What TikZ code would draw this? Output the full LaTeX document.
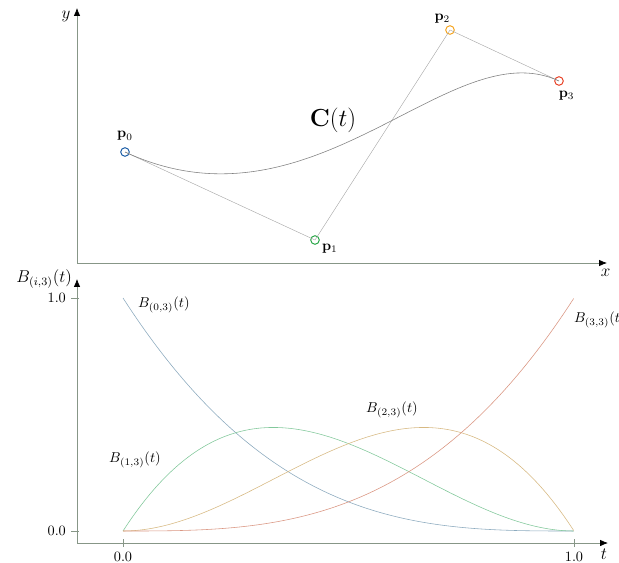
\documentclass[tikz,border=0pt]{standalone}
\usepackage{amsmath, amssymb}
\usetikzlibrary{arrows.meta, positioning}

\definecolor{axisgray}{RGB}{135,150,135}
\definecolor{ptblue}{RGB}{31,96,168}
\definecolor{ptgreen}{RGB}{44,168,74}
\definecolor{ptorange}{RGB}{245,166,35}
\definecolor{ptred}{RGB}{232,69,42}
\definecolor{bblue}{RGB}{140,170,190}
\definecolor{bgreen}{RGB}{130,200,155}
\definecolor{btan}{RGB}{215,185,130}
\definecolor{bsalmon}{RGB}{218,150,130}

\begin{document}
\begin{tikzpicture}[x=0.7pt, y=-0.7pt,
    axis/.style={draw=axisgray, line width=0.5pt, -{Latex[black,length=5.5pt,width=4.5pt]}},
    tick/.style={draw=axisgray, line width=0.5pt},
    ctrlpt/.style={circle, draw, line width=0.7pt, minimum size=6pt, inner sep=0pt},
    poly/.style={gray!70, line width=0.3pt},
    basis/.style={domain=0:1, smooth, samples=60, variable=\t, line width=0.4pt}]
    \useasboundingbox (0,0) rectangle (619,562);

    % top: the curve C(t)
    \coordinate (o1) at (77,263);
    \coordinate (x1) at (607,263);
    \coordinate (y1) at (77,8);
    \draw[axis] (o1) -- (x1);
    \draw[axis] (o1) -- (y1);
    \node[below left=1pt and -6pt of x1, font=\large] (xl) {$x$};
    \node[left=1pt of y1, yshift=-6pt, font=\large] (yl) {$y$};

    \node[ctrlpt, draw=ptblue] (p0) at (125,152) {};
    \node[ctrlpt, draw=ptgreen] (p1) at (315,240) {};
    \node[ctrlpt, draw=ptorange] (p2) at (450,30) {};
    \node[ctrlpt, draw=ptred] (p3) at (559,81) {};
    \node[above=1pt of p0] (l0) {$\mathbf{p}_0$};
    \node[below right=-3pt and -1pt of p1] (l1) {$\mathbf{p}_1$};
    \node[above left=-1pt and -6pt of p2] (l2) {$\mathbf{p}_2$};
    \node[below right=1pt and -6pt of p3] (l3) {$\mathbf{p}_3$};

    \draw[poly] (p0.center) -- (p1.center) -- (p2.center) -- (p3.center);
    \draw[gray, line width=0.4pt] (p0.center) .. controls (p1.center) and (p2.center) .. (p3.center);
    \node[font=\LARGE] (cl) at (333,120) {$\mathbf{C}(t)$};

    % bottom: the basis functions
    \coordinate (o2) at (77,543);
    \coordinate (x2) at (608,543);
    \coordinate (y2) at (77,279);
    \draw[axis] (o2) -- (x2);
    \draw[axis] (o2) -- (y2);
    \node[font=\large] (tl) at (604,554) {$t$};
    \node[left=0pt of y2, font=\large] (bl) {$B_{(i,3)}(t)$};

    \draw[tick] (71,298) -- (79,298) node[left=0pt, pos=0] (y1l) {$1.0$};
    \draw[tick] (71,531) -- (79,531) node[left=0pt, pos=0] (y0l) {$0.0$};
    \draw[tick] (123,539) -- (123,547) node[below=0pt] (t0l) {$0.0$};
    \draw[tick] (574,539) -- (574,547) node[below=0pt] (t1l) {$1.0$};

    \draw[basis, bblue] plot ({123+451*\t}, {531-233*(1-\t)^3});
    \draw[basis, bgreen] plot ({123+451*\t}, {531-233*3*\t*(1-\t)^2});
    \draw[basis, btan] plot ({123+451*\t}, {531-233*3*\t^2*(1-\t)});
    \draw[basis, bsalmon] plot ({123+451*\t}, {531-233*\t^3});

    \node[anchor=west] (b0) at (133,305) {$B_{(0,3)}(t)$};
    \node (b1) at (135,460) {$B_{(1,3)}(t)$};
    \node (b2) at (392,410) {$B_{(2,3)}(t)$};
    \node[anchor=west] (b3) at (569,320) {$B_{(3,3)}(t)$};
\end{tikzpicture}
\end{document}
